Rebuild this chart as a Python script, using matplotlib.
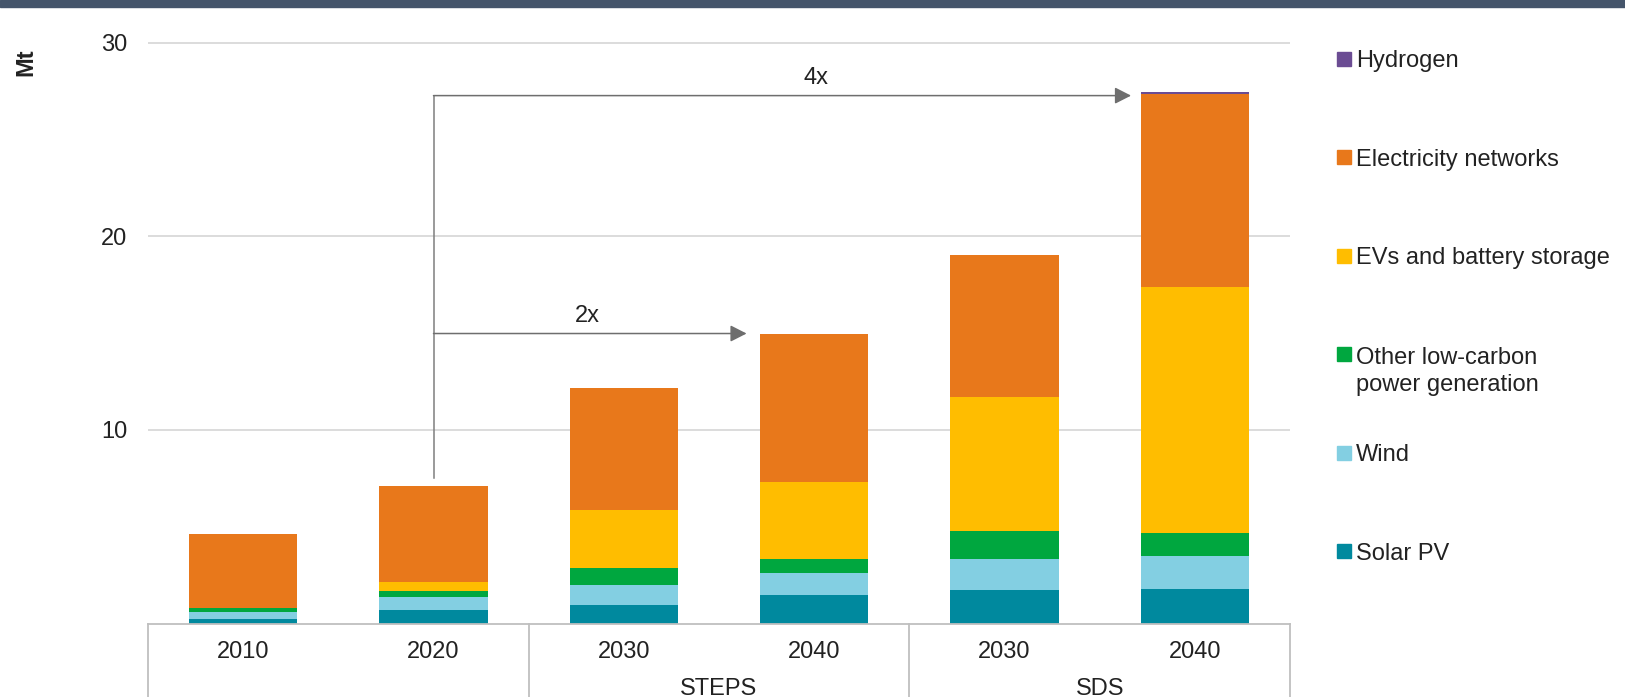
"""Critical minerals demand for clean energy technologies, by scenario."""

import numpy as np
import matplotlib
matplotlib.use("Agg")
import matplotlib.pyplot as plt
import matplotlib.patches as mpatches
import matplotlib.transforms as mtransforms

plt.rcParams["font.family"] = ["Liberation Sans", "DejaVu Sans"]

# --- data (Mt) ---
years = ["2010", "2020", "2030", "2040", "2030", "2040"]
groups = ["", "STEPS", "SDS"]
group_sizes = [2, 2, 2]

solar_pv = [0.25, 0.70, 0.94, 1.45, 1.75, 1.78]
wind = [0.33, 0.67, 1.03, 1.18, 1.58, 1.72]
other_low_carbon = [0.24, 0.29, 0.90, 0.70, 1.45, 1.19]
evs_storage = [0.0, 0.47, 2.99, 3.98, 6.94, 12.71]
elec_networks = [3.80, 4.97, 6.28, 7.62, 7.31, 9.95]
hydrogen = [0.0, 0.0, 0.0, 0.0, 0.0, 0.12]

series = [
    ("Solar PV", solar_pv, "#00899e"),
    ("Wind", wind, "#83cfe2"),
    ("Other low-carbon\npower generation", other_low_carbon, "#00a73f"),
    ("EVs and battery storage", evs_storage, "#ffbd00"),
    ("Electricity networks", elec_networks, "#e8781b"),
    ("Hydrogen", hydrogen, "#6b4c93"),
]

TEXT = "#222222"
FS = 17
W, H = 1625, 697

fig = plt.figure(figsize=(W / 100, H / 100), dpi=100)
ax = fig.add_axes([148 / W, 1 - 623.5 / H, (1290 - 148) / W, (623.5 - 23.4) / H])

# dark band along the top edge
fig.add_artist(mpatches.Rectangle((0, 1 - 7 / H), 1, 7 / H, transform=fig.transFigure,
                                  color="#45556b", zorder=10))

x = np.arange(len(years))
bar_w = 0.57
bottom = np.zeros(len(years))
for name, vals, color in series:
    vals = np.array(vals)
    ax.bar(x, vals, bar_w, bottom=bottom, color=color, zorder=3, linewidth=0)
    bottom += vals
totals = bottom

ax.set_xlim(-0.5, len(years) - 0.5)
ax.set_ylim(0, 31)
ax.set_yticks([10, 20, 30])
ax.tick_params(axis="y", length=0, pad=15, labelsize=FS, labelcolor=TEXT)
ax.set_xticks(x)
ax.set_xticklabels(years)
ax.tick_params(axis="x", length=0, pad=12.5, labelsize=FS, labelcolor=TEXT)
ax.grid(axis="y", color="#d9d9d9", linewidth=1.3, zorder=0)
for s in ax.spines.values():
    s.set_visible(False)

# category axis box with group separators
line_kw = dict(color="#bfbfbf", linewidth=1.3, clip_on=False, zorder=4)
ax.plot([-0.5, len(years) - 0.5], [0, 0], **line_kw)
trans = mtransforms.blended_transform_factory(ax.transData, ax.transAxes)
trans_fig = mtransforms.blended_transform_factory(ax.transData, fig.transFigure)
edges = np.concatenate([[0], np.cumsum(group_sizes)]) - 0.5
for e in edges:
    ax.plot([e, e], [0, -0.2], transform=trans, **line_kw)
for g, lo, hi in zip(groups, edges[:-1], edges[1:]):
    ax.text((lo + hi) / 2, 1 - 689 / H, g, transform=trans_fig, ha="center",
            va="center", fontsize=FS, color=TEXT)

fig.text(26 / W, 1 - 62 / H, "Mt", rotation=90, ha="center", va="center",
         fontsize=FS, color=TEXT, fontweight="bold")

# growth arrows from the 2020 bar
arrow_kw = dict(arrowstyle="-|>,head_length=0.55,head_width=0.28", color="#6e6e6e",
                linewidth=1.1, shrinkA=0, shrinkB=0, mutation_scale=18)
y4 = totals[5] - 0.2
y2 = totals[3] + 0.05
ax.plot([1, 1], [totals[1] + 0.4, y4], color="#7f7f7f", linewidth=1.1, zorder=5)
ax.annotate("", xy=(5 - bar_w / 2 - 0.05, y4), xytext=(1, y4),
            arrowprops=arrow_kw, zorder=5)
ax.annotate("", xy=(3 - bar_w / 2 - 0.07, y2), xytext=(1, y2),
            arrowprops=arrow_kw, zorder=5)
ax.text(3.01, y4 + 0.9, "4x", ha="center", va="center", fontsize=FS, color=TEXT)
ax.text(1.81, y2 + 0.9, "2x", ha="center", va="center", fontsize=FS, color=TEXT)

# legend, top entry first; marker sits on the first text line
line_px = 28.5
for i, (name, vals, color) in enumerate(reversed(series)):
    yc = 59 + 98.4 * i
    fig.add_artist(mpatches.Rectangle((1337 / W, 1 - (yc + 7) / H), 14 / W, 14 / H,
                                      transform=fig.transFigure, color=color))
    n_extra = name.count("\n")
    fig.text(1356 / W, 1 - (yc + 8.5 + n_extra * line_px) / H, name, ha="left",
             va="baseline", fontsize=FS, color=TEXT, linespacing=1.31)

fig.savefig("out.png", dpi=100)
